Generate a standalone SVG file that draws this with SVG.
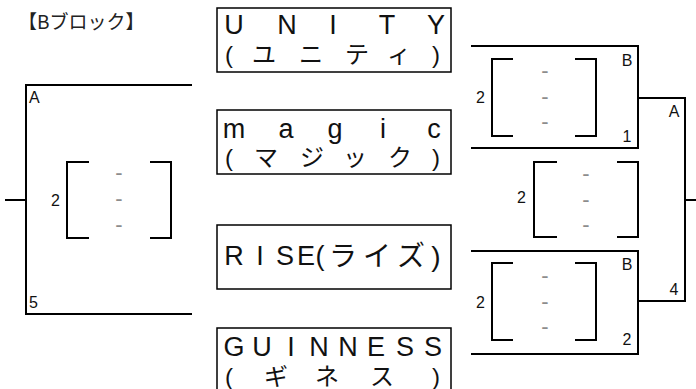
<svg xmlns="http://www.w3.org/2000/svg" width="696" height="389" viewBox="0 0 696 389">
<style>
text{font-family:"Liberation Sans","Noto Sans CJK JP",sans-serif;fill:#111}
.box{fill:#fff;stroke:#000;stroke-width:1.5}
.ln{fill:none;stroke:#000;stroke-width:2}
.big{font-size:27px;text-anchor:middle}
.kana{font-size:24px;text-anchor:middle}
.num{font-size:16px}
.nm{font-size:16px;text-anchor:middle}
.dash{font-size:22px;fill:#8c8c8c;text-anchor:middle}
.title{font-family:"Noto Sans CJK JP",sans-serif;font-size:19px;fill:#222}
</style>
<rect width="696" height="389" fill="#fff"/>
<text class="title" x="18" y="29">【Bブロック】</text>
<g id="connectors">
<path class="ln" d="M192,85 H26 V314 H192 M5,200 H26"/>
<path class="ln" d="M89,162 H67 V238 H89 M150,162 H171 V238 H150"/>
<path class="ln" d="M471,46 H638 V148 H471"/>
<path class="ln" d="M513,59 H492 V136 H513 M575,59 H596 V136 H575"/>
<path class="ln" d="M557,162 H534 V237 H557 M617,162 H638 V237 H617"/>
<path class="ln" d="M471,251 H638 V354 H471"/>
<path class="ln" d="M513,263 H492 V340 H513 M575,263 H596 V340 H575"/>
<path class="ln" d="M638,98 H685 V301 H638 M685,200 H696"/>
</g>
<g id="left-bracket">
<text class="num" x="29" y="103">A</text>
<text class="num" x="29" y="308">5</text>
<text class="num" x="51" y="206">2</text>
<text class="dash" x="119" y="180">-</text>
<text class="dash" x="119" y="206">-</text>
<text class="dash" x="119" y="232">-</text>
</g>
<g id="node-unity">
<rect class="box" x="217" y="8" width="234" height="64"/>
<text class="big" x="234 287 333 387 436" y="34">UNITY</text>
<text class="kana" x="229 264 311 357 399 436" y="63">(ユニティ)</text>
</g>
<g id="node-magic">
<rect class="box" x="217" y="110" width="234" height="64"/>
<text class="big" x="234 286 335 383 434" y="138">magic</text>
<text class="kana" x="229 266 312 355 400 436" y="166">(マジック)</text>
</g>
<g id="node-rise">
<rect class="box" x="217" y="225" width="234" height="64"/>
<text class="big" x="234 260 285 306 320" y="265">RISE(</text>
<text class="kana" style="font-size:28px" x="343 377 411 436" y="266">ライズ)</text>
</g>
<g id="node-guinness">
<rect class="box" x="217" y="328" width="234" height="66"/>
<text class="big" x="234 262 291 319 348 376 405 433" y="356">GUINNESS</text>
<text class="kana" x="229 276 327 382 436" y="385">(ギネス)</text>
</g>
<g id="right-top">
<text class="num" x="476" y="103">2</text>
<text class="dash" x="545" y="78">-</text>
<text class="dash" x="545" y="104">-</text>
<text class="dash" x="545" y="129">-</text>
<text class="nm" x="627" y="66">B</text>
<text class="nm" x="627" y="142">1</text>
</g>
<g id="right-middle">
<text class="num" x="517" y="203">2</text>
<text class="dash" x="586" y="181">-</text>
<text class="dash" x="586" y="207">-</text>
<text class="dash" x="586" y="232">-</text>
<text class="nm" x="674" y="117">A</text>
<text class="nm" x="674" y="295">4</text>
</g>
<g id="right-bottom">
<text class="num" x="476" y="308">2</text>
<text class="dash" x="545" y="283">-</text>
<text class="dash" x="545" y="309">-</text>
<text class="dash" x="545" y="334">-</text>
<text class="nm" x="627" y="270">B</text>
<text class="nm" x="627" y="345">2</text>
</g>
</svg>
